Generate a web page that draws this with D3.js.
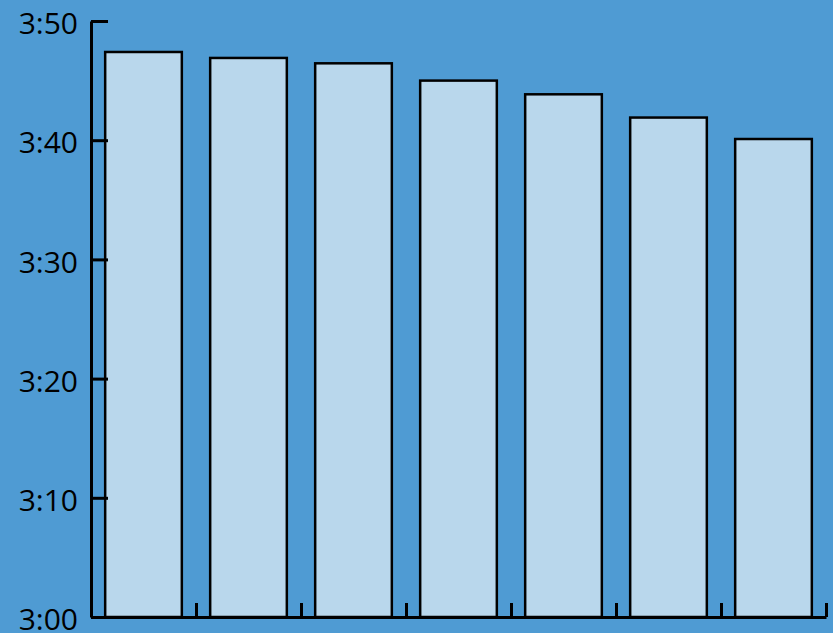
<!DOCTYPE html>
<html>
<head>
<meta charset="utf-8">
<script src="https://cdn.jsdelivr.net/npm/d3@7.9.0/dist/d3.min.js"></script>
<style>
  html, body { margin: 0; padding: 0; background: #4f9bd3; }
  svg { display: block; }
  .axis text { font-family: "Open Sans", sans-serif; font-size: 30px; fill: #000; }
  .axis path, .axis line { stroke: #000; stroke-width: 3; }
</style>
</head>
<body>
<svg width="833" height="633"></svg>
<script>
// categories and times (seconds, as m:ss)
const categories = ["1", "2", "3", "4", "5", "6", "7"];
const times = [227.4, 226.9, 226.45, 225.0, 223.85, 221.9, 220.1];
const yTicks = [180, 190, 200, 210, 220, 230];

const svg = d3.select('svg');
const mLeft = 91, mRight = 826, mTop = 21, mBottom = 617;

let x = d3.scaleBand().domain(categories).range([mLeft, mRight]).paddingInner(0.27).paddingOuter(0.135);
let y = d3.scaleLinear().domain([180, 230]).range([mBottom, mTop]);
let xLin = d3.scaleLinear().domain([0, categories.length]).range([mLeft, mRight]);

const fmt = (s) => `${Math.floor(s / 60)}:${String(s % 60).padStart(2, '0')}`;

svg.append('g')
  .selectAll('rect')
  .data(times)
  .join('rect')
  .attr('x', (d, i) => x(categories[i]))
  .attr('y', (d) => y(d))
  .attr('width', x.bandwidth())
  .attr('height', (d) => y(180) - y(d))
  .attr('fill', '#b9d7ec')
  .attr('stroke', '#000')
  .attr('stroke-width', 2.5);

svg.append('g')
  .attr('class', 'axis')
  .attr('transform', `translate(${mLeft},0)`)
  .call(d3.axisLeft(y).tickValues(yTicks).tickFormat(fmt).tickSizeInner(-17).tickSizeOuter(0).tickPadding(13))
  .selectAll('text')
  .attr('dy', '0.42em');

svg.append('g')
  .attr('class', 'axis')
  .attr('transform', `translate(0,${mBottom})`)
  .call(d3.axisBottom(xLin).tickValues(d3.range(1, categories.length + 1)).tickFormat('').tickSizeInner(-14).tickSizeOuter(0));
</script>
</body>
</html>
